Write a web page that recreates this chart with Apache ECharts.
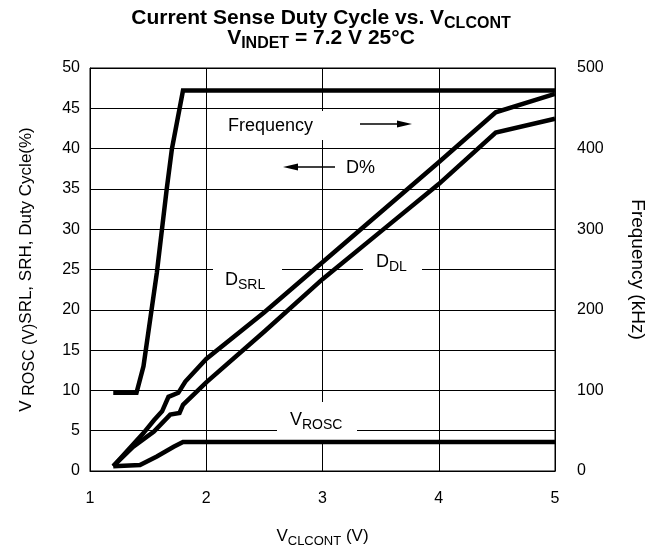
<!DOCTYPE html>
<html lang="en">
<head>
<meta charset="UTF-8">
<title>Current Sense Duty Cycle vs. VCLCONT</title>
<script src="https://cdn.jsdelivr.net/npm/echarts@6/dist/echarts.min.js"></script>
<style>
    body { margin: 0; background: #fff; }
    #main { width: 650px; height: 550px; }
</style>
</head>
<body>
<div id="main"></div>
<script>
// data
var freqX   = [1.2, 1.4, 1.46, 1.575, 1.66, 1.704, 1.8, 5];
var freqKHz = [97, 97, 130, 246, 350, 399, 472, 472];
var vroscX  = [1.2, 1.43, 1.575, 1.72, 1.8, 5];
var vroscV  = [0.6, 0.75, 1.8, 3.0, 3.6, 3.6];
var dsrlX   = [1.2, 1.46, 1.55, 1.62, 1.675, 1.76, 1.82, 2.0, 2.5, 3.0, 3.5, 4.0, 4.49, 5.0];
var dsrlPct = [0.6, 4.7, 6.3, 7.4, 9.2, 9.7, 11.1, 13.9, 19.7, 25.9, 32.1, 38.3, 44.5, 46.8];
var ddlX    = [1.2, 1.37, 1.55, 1.69, 1.77, 1.8, 2.0, 2.5, 3.0, 3.5, 4.0, 4.49, 5.0];
var ddlPct  = [0.6, 3.0, 4.9, 7.0, 7.2, 8.2, 11.0, 17.3, 23.8, 29.7, 35.6, 42.0, 43.7];

var FONT = 'Liberation Sans, Arial, Helvetica, sans-serif';

function pairs(xs, ys) {
    return xs.map(function (x, i) { return [x, ys[i]]; });
}

// rich styles: m = main text, s = subscript
function rich(size, subSize, bold) {
    var w = bold ? 'bold' : 'normal';
    return {
        m: { fontSize: size, lineHeight: size + 6, fontWeight: w, fontFamily: FONT, color: '#000' },
        s: { fontSize: subSize, verticalAlign: 'bottom', fontWeight: w, fontFamily: FONT, color: '#000' }
    };
}

function curve(name, xs, ys, axis) {
    return {
        name: name,
        type: 'line',
        yAxisIndex: axis,
        data: pairs(xs, ys),
        symbol: 'none',
        silent: true,
        lineStyle: { color: '#000', width: 4.5, join: 'miter' }
    };
}

function box(x, y, w, h) {
    return { type: 'rect', z: 1, silent: true, shape: { x: x, y: y, width: w, height: h }, style: { fill: '#fff' } };
}

function label(x, y, text) {
    return {
        type: 'text', z: 1, silent: true, x: x, y: y,
        style: { text: text, rich: rich(18, 14, false), align: 'left', verticalAlign: 'middle' }
    };
}

function arrow(x1, x2, y) {
    var dir = x2 > x1 ? 1 : -1;
    return [
        { type: 'line', z: 1, silent: true, shape: { x1: x1, y1: y, x2: x2 - dir * 10, y2: y }, style: { stroke: '#000', lineWidth: 1.5 } },
        { type: 'polygon', z: 1, silent: true, shape: { points: [[x2, y], [x2 - dir * 15, y - 3.5], [x2 - dir * 15, y + 3.5]] }, style: { fill: '#000' } }
    ];
}

var chart = echarts.init(document.getElementById('main'));

var option = {
    backgroundColor: '#fff',
    animation: false,
    grid: {
        left: 90, right: 95, top: 68, bottom: 79,
        outerBoundsMode: 'none', containLabel: false,
        show: true, borderColor: '#000', borderWidth: 1
    },
    xAxis: {
        type: 'value', min: 1, max: 5, interval: 1,
        axisLine: { show: true, lineStyle: { color: '#000', width: 1 } },
        axisTick: { show: false },
        splitLine: { show: true, lineStyle: { color: '#000', width: 1 } },
        axisLabel: { color: '#000', fontSize: 16, fontFamily: FONT, margin: 20 },
        name: '{m|V}{s|CLCONT}{m| (V)}',
        nameLocation: 'middle', nameGap: 54,
        nameTextStyle: { rich: rich(17, 13, false) }
    },
    yAxis: [{
        type: 'value', min: 0, max: 50, interval: 5,
        axisLine: { show: true, lineStyle: { color: '#000', width: 1 } },
        axisTick: { show: false },
        splitLine: { show: true, lineStyle: { color: '#000', width: 1 } },
        axisLabel: { color: '#000', fontSize: 16, fontFamily: FONT, margin: 10 },
        name: '{m|V }{s|ROSC (V)}{m|SRL, SRH, Duty Cycle(%)}',
        nameLocation: 'middle', nameGap: 52, nameRotate: 90,
        nameTextStyle: { rich: rich(17, 16, false) }
    }, {
        type: 'value', min: 0, max: 500, interval: 100, position: 'right',
        axisLine: { show: true, lineStyle: { color: '#000', width: 1 } },
        axisTick: { show: false },
        splitLine: { show: false },
        axisLabel: { color: '#000', fontSize: 16, fontFamily: FONT, margin: 22 },
        name: 'Frequency (kHz)',
        nameLocation: 'middle', nameGap: 73, nameRotate: -90,
        nameTextStyle: { color: '#000', fontSize: 19, fontFamily: FONT }
    }],
    series: [
        curve('Frequency', freqX, freqKHz, 1),
        curve('VROSC', vroscX, vroscV, 0),
        curve('DSRL', dsrlX, dsrlPct, 0),
        curve('DDL', ddlX, ddlPct, 0)
    ],
    graphic: [
        {
            type: 'text', x: 321, y: 18, silent: true,
            style: { text: '{m|Current Sense Duty Cycle vs. V}{s|CLCONT}', rich: rich(21, 16, true), align: 'center', verticalAlign: 'middle' }
        },
        {
            type: 'text', x: 321, y: 38, silent: true,
            style: { text: '{m|V}{s|INDET}{m| = 7.2 V 25\u00B0C}', rich: rich(21, 16, true), align: 'center', verticalAlign: 'middle' }
        },
        box(218, 111, 202, 29),
        box(213, 263, 69, 28),
        box(363, 250, 59, 27),
        box(277, 402, 80, 38),
        label(228, 126, '{m|Frequency}'),
        label(346, 168, '{m|D%}'),
        label(225, 280, '{m|D}{s|SRL}'),
        label(376, 262, '{m|D}{s|DL}'),
        label(290, 420, '{m|V}{s|ROSC}')
    ].concat(arrow(360, 412, 124), arrow(335, 283, 167))
};

chart.setOption(option);
</script>
</body>
</html>
